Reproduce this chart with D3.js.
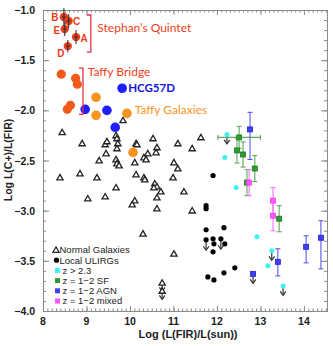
<!DOCTYPE html>
<html><head><meta charset="utf-8">
<script src="https://cdn.jsdelivr.net/npm/d3@7"></script>
<style>body{margin:0;background:#fff}</style>
</head><body><svg id="c" width="333" height="346"></svg>
<script>
// ---------- data ----------
const xTicks = [8, 9, 10, 11, 12, 13, 14];
const yTicks = [-1.0, -1.5, -2.0, -2.5, -3.0, -3.5, -4.0];

const sqNames = ["B", "C", "E", "A", "D"];
const sqX = [8.48, 8.59, 8.50, 8.76, 8.57];
const sqY = [-1.07, -1.11, -1.19, -1.27, -1.36];
const sqYerr = [0.09, 0.07, 0.07, 0.07, 0.06];
const sqXerr = [0.05, 0.05, 0.05, 0.05, 0.05];

const bridgeX = [8.42, 8.75, 8.79, 8.63, 8.56];
const bridgeY = [-1.64, -1.68, -1.74, -1.95, -1.99];

const hcgX = [9.82, 8.97, 9.47, 9.66];
const hcgY = [-1.78, -1.99, -2.00, -2.17];

const taffyX = [9.22, 9.22, 9.93, 10.07];
const taffyY = [-1.87, -2.05, -2.03, -2.42];

const normalX = [8.44, 8.90, 9.43, 9.47, 9.68, 9.70, 9.72, 9.70, 9.84, 9.45, 9.29, 9.68, 9.70, 9.75,
  10.11, 10.14, 10.16, 10.41, 10.32, 10.37, 10.53, 10.62, 10.60, 11.10, 11.43, 11.63, 11.01, 11.10,
  8.39, 8.85, 9.24, 10.14, 10.32, 10.34, 10.57, 10.62, 10.71, 10.55, 9.68, 9.43, 9.03, 10.11, 10.05,
  10.62, 10.62, 10.30, 10.99, 11.24, 11.43, 11.01];
const normalY = [-2.22, -2.33, -2.34, -2.31, -2.25, -2.28, -2.33, -2.38, -2.10, -2.43, -2.50, -2.49, -2.53, -2.55,
  -2.52, -2.33, -2.34, -2.43, -2.47, -2.49, -2.28, -2.37, -2.42, -2.33, -2.38, -2.27, -2.52, -2.58,
  -2.67, -2.63, -2.67, -2.64, -2.67, -2.69, -2.73, -2.76, -2.81, -2.77, -2.77, -2.86, -2.88, -2.90, -2.94,
  -2.87, -2.98, -3.23, -2.67, -2.81, -3.00, -3.43];
const normalLimX = [10.74, 10.74];
const normalLimY = [-3.72, -3.80];

const ulirgX = [11.91, 11.75, 11.75, 11.75, 12.16, 11.91, 11.93, 11.91, 12.18, 11.79, 11.93, 12.16, 12.41];
const ulirgY = [-2.65, -2.95, -2.98, -3.19, -3.17, -3.28, -3.33, -3.41, -3.33, -3.66, -3.69, -3.62, -3.57];
const ulirgLimX = [11.75, 12.09];
const ulirgLimY = [-3.29, -3.28];

const hizX = [12.18, 12.44, 12.92, 13.17];
const hizY = [-2.47, -2.77, -3.26, -3.55];
const hizLimX = [12.23, 13.26, 13.52];
const hizLimY = [-2.24, -3.40, -3.75];

const sfX = [12.51, 12.46, 12.60, 12.87, 12.69, 13.43];
const sfY = [-2.27, -2.40, -2.44, -2.58, -2.72, -3.08];
const sfYerr = [0.11, 0.125, 0.125, 0.13, 0.13, 0.13];
const sfXerr = [0.49, 0, 0, 0, 0, 0];

const agnX = [12.76, 13.40, 14.05, 14.39];
const agnY = [-2.19, -3.51, -3.36, -3.27];
const agnYhi = [-2.02, -3.38, -3.25, -3.10];
const agnYlo = [-2.49, -3.65, -3.52, -3.58];
const agnLimX = [12.83];
const agnLimY = [-3.63];

const mixX = [12.74, 13.29, 13.29];
const mixY = [-2.72, -2.90, -3.05];
const mixYerr = [0.13, 0.13, 0.15];

const legendLabels = ["Normal Galaxies", "Local ULIRGs", "z > 2.3", "z = 1\u22122 SF", "z = 1\u22122 AGN", "z = 1\u22122 mixed"];

// ---------- styles / layout ----------
const W = 333, H = 346;
const L = 43, R = 327, T = 10, B = 311;
const col = {
  sq: "#f0401a", bridge: "#f25a1c", taffy: "#f7941d", hcg: "#1e1eff",
  bracket: "#e8304a", cyan: "#3cf2f2", sf: "#2f9a2f", sfBar: "#5cab5c",
  agn: "#4040f0", agnBar: "#5a5aee", mix: "#ff55ff", mixBar: "#ff70ff", axis: "#8a8a8a"
};
const svg = d3.select("#c");
const x = d3.scaleLinear().domain([8, 14.53]).range([L, R]);
const y = d3.scaleLinear().domain([-4, -1]).range([B, T]);

// ---------- axes ----------
function axisG(axis, tx, ty) {
  const g = svg.append("g").attr("transform", `translate(${tx},${ty})`).call(axis);
  g.select(".domain").attr("stroke", col.axis);
  g.selectAll(".tick line").attr("stroke", col.axis);
  return g;
}
const xMinor = d3.range(80, 146).map(v => v / 10);
const yMinor = d3.range(-40, -9).map(v => v / 10);
[[d3.axisBottom, 0, B], [d3.axisTop, 0, T]].forEach(([f, tx, ty]) => {
  axisG(f(x).tickValues(xMinor).tickSize(-2.5).tickFormat(""), tx, ty);
  axisG(f(x).tickValues(xTicks).tickSize(-5).tickFormat(""), tx, ty);
});
[[d3.axisLeft, L, 0], [d3.axisRight, R, 0]].forEach(([f, tx, ty]) => {
  axisG(f(y).tickValues(yMinor).tickSize(-3).tickFormat(""), tx, ty);
  axisG(f(y).tickValues(yTicks).tickSize(-6).tickFormat(""), tx, ty);
});
const tickFont = "Liberation Sans, Arial, sans-serif";
svg.append("g").selectAll("text").data(xTicks).join("text")
  .attr("x", d => x(d)).attr("y", 325).attr("text-anchor", "middle")
  .attr("font-family", tickFont).attr("font-weight", "bold").attr("font-size", 10.5).attr("fill", "#222")
  .text(d => d);
svg.append("g").selectAll("text").data(yTicks).join("text")
  .attr("x", 35).attr("y", d => y(d) + 4).attr("text-anchor", "end")
  .attr("font-family", tickFont).attr("font-weight", "bold").attr("font-size", 10.5).attr("fill", "#222")
  .text(d => d3.format(".1f")(d).replace("-", "-"));
svg.append("text").attr("x", 188).attr("y", 338).attr("text-anchor", "middle")
  .attr("font-family", tickFont).attr("font-weight", "bold").attr("font-size", 11).attr("fill", "#222")
  .text("Log (L(FIR)/L(sun))");
svg.append("text").attr("transform", "translate(12,160) rotate(-90)").attr("text-anchor", "middle")
  .attr("font-family", tickFont).attr("font-weight", "bold").attr("font-size", 10.5).attr("fill", "#222")
  .text("Log L(C+)/L(FIR)");

// ---------- helpers ----------
const zip = (a, b) => a.map((v, i) => [v, b[i]]);
function vbar(g, xv, y1, y2, color, cap = 2.5) {
  g.append("line").attr("x1", x(xv)).attr("x2", x(xv)).attr("y1", y(y1)).attr("y2", y(y2)).attr("stroke", color).attr("stroke-width", 1.1);
  [y1, y2].forEach(v => g.append("line").attr("x1", x(xv) - cap).attr("x2", x(xv) + cap).attr("y1", y(v)).attr("y2", y(v)).attr("stroke", color).attr("stroke-width", 1.1));
}
function hbar(g, yv, x1, x2, color, cap = 2.5) {
  g.append("line").attr("x1", x(x1)).attr("x2", x(x2)).attr("y1", y(yv)).attr("y2", y(yv)).attr("stroke", color).attr("stroke-width", 1.1);
  [x1, x2].forEach(v => g.append("line").attr("x1", x(v)).attr("x2", x(v)).attr("y1", y(yv) - cap).attr("y2", y(yv) + cap).attr("stroke", color).attr("stroke-width", 1.1));
}
function arrow(g, xv, yv, len = 10) {
  const px = x(xv), py = y(yv);
  g.append("line").attr("x1", px).attr("x2", px).attr("y1", py).attr("y2", py + len).attr("stroke", "#333").attr("stroke-width", 1.2);
  g.append("path").attr("d", `M${px - 2.8},${py + len - 3.5}L${px},${py + len + 0.5}L${px + 2.8},${py + len - 3.5}`)
    .attr("fill", "none").attr("stroke", "#333").attr("stroke-width", 1.2);
}
const tri = d3.symbol().type(d3.symbolTriangle).size(17);
function triangles(g, pts) {
  g.selectAll(null).data(pts).join("path").attr("d", tri)
    .attr("transform", d => `translate(${x(d[0])},${y(d[1]) + 0.5})`)
    .attr("fill", "#fff").attr("stroke", "#222").attr("stroke-width", 1.3);
}
function dots(g, pts, r, fill) {
  g.selectAll(null).data(pts).join("circle").attr("cx", d => x(d[0])).attr("cy", d => y(d[1])).attr("r", r).attr("fill", fill);
}
function squares(g, pts, s, fill, stroke) {
  g.selectAll(null).data(pts).join("rect").attr("x", d => x(d[0]) - s / 2).attr("y", d => y(d[1]) - s / 2)
    .attr("width", s).attr("height", s).attr("fill", fill).attr("stroke", stroke).attr("stroke-width", 0.8);
}

// ---------- marks ----------
const gN = svg.append("g");
triangles(gN, zip(normalX, normalY));
normalLimX.forEach((v, i) => arrow(gN, v, normalLimY[i], 8));
triangles(gN, zip(normalLimX, normalLimY));

const gU = svg.append("g");
ulirgLimX.forEach((v, i) => arrow(gU, v, ulirgLimY[i], 10));
dots(gU, zip(ulirgX, ulirgY), 2.6, "#000");
dots(gU, zip(ulirgLimX, ulirgLimY), 2.6, "#000");

const gH = svg.append("g");
hizLimX.forEach((v, i) => arrow(gH, v, hizLimY[i], 9));
dots(gH, zip(hizX, hizY), 2.5, col.cyan);
dots(gH, zip(hizLimX, hizLimY), 2.5, col.cyan);

const gS = svg.append("g");
sfX.forEach((v, i) => {
  vbar(gS, v, sfY[i] - sfYerr[i], sfY[i] + sfYerr[i], col.sfBar);
  if (sfXerr[i]) hbar(gS, sfY[i], v - sfXerr[i], v + sfXerr[i], col.sfBar);
});
const gM = svg.append("g");
mixX.forEach((v, i) => vbar(gM, v, mixY[i] - mixYerr[i], mixY[i] + mixYerr[i], col.mixBar));
squares(gS, zip(sfX, sfY), 5, col.sf, "#1f7a1f");
squares(gM, zip(mixX, mixY), 5, col.mix, "#ee44ee");

const gA = svg.append("g");
agnX.forEach((v, i) => vbar(gA, v, agnYlo[i], agnYhi[i], col.agnBar));
agnLimX.forEach((v, i) => arrow(gA, v, agnLimY[i], 9));
squares(gA, zip(agnX, agnY), 5, col.agn, "#2222cc");
squares(gA, zip(agnLimX, agnLimY), 5, col.agn, "#2222cc");

const gC = svg.append("g");
dots(gC, zip(taffyX, taffyY), 4.8, col.taffy);
dots(gC, zip(hcgX, hcgY), 4.8, col.hcg);
dots(gC, zip(bridgeX, bridgeY), 4.6, col.bridge);
dots(gC, zip(sqX, sqY), 4.2, col.sq);
sqX.forEach((v, i) => {
  vbar(gC, v, sqY[i] - sqYerr[i], sqY[i] + sqYerr[i], "#333", 0);
  hbar(gC, sqY[i], v - sqXerr[i], v + sqXerr[i], "#333", 0);
});

// ---------- annotations ----------
const annFont = "Lato, 'Open Sans', sans-serif";
const sqLabelOffset = { B: [-9, 0], C: [8, 0], E: [-8, 1], A: [8, 1], D: [-7, 7] };
svg.append("g").selectAll("text").data(sqNames).join("text")
  .attr("x", (d, i) => x(sqX[i]) + sqLabelOffset[d][0])
  .attr("y", (d, i) => y(sqY[i]) + sqLabelOffset[d][1] + 3.5)
  .attr("text-anchor", "middle").attr("font-family", tickFont).attr("font-weight", "bold")
  .attr("font-size", 10).attr("fill", col.sq).text(d => d);

function bracket(xv, y1, y2) {
  svg.append("path").attr("d", `M${x(xv) - 4},${y(y1)}H${x(xv)}V${y(y2)}H${x(xv) - 4}`)
    .attr("fill", "none").attr("stroke", col.bracket).attr("stroke-width", 1.3);
}
bracket(9.10, -1.05, -1.42);
bracket(8.92, -1.58, -2.04);
function note(txt, xv, yv, color, weight, size) {
  svg.append("text").attr("x", x(xv)).attr("y", y(yv)).attr("dy", "0.35em")
    .attr("font-family", annFont).attr("font-weight", weight).attr("font-size", size).attr("fill", color).text(txt);
}
note("Stephan\u2019s Quintet", 9.25, -1.18, col.sq, "normal", 12);
note("Taffy Bridge", 9.03, -1.62, col.sq, "normal", 12);
note("HCG57D", 9.96, -1.78, "#1515e0", "bold", 11.5);
note("Taffy Galaxies", 10.11, -1.99, col.taffy, "normal", 12);

// ---------- legend ----------
const lg = svg.append("g");
const legendFont = "Liberation Sans, Arial, sans-serif";
legendLabels.forEach((t, i) => {
  const cy = 250 + i * 10.2;
  if (i === 0) lg.append("path").attr("d", tri).attr("transform", `translate(56,${cy + 0.5})`).attr("fill", "#fff").attr("stroke", "#222").attr("stroke-width", 1.2);
  else if (i === 1) lg.append("circle").attr("cx", 56.5).attr("cy", cy).attr("r", 2.6).attr("fill", "#000");
  else {
    const c = [col.cyan, col.sf, col.agn, col.mix][i - 2];
    lg.append("rect").attr("x", 55).attr("y", cy - 2.5).attr("width", 5).attr("height", 5).attr("fill", c);
  }
  lg.append("text").attr("x", i < 2 ? 59.5 : 62.5).attr("y", cy).attr("dy", "0.35em")
    .attr("font-family", legendFont).attr("font-size", 9.5).attr("fill", "#222").text(t);
});
</script>
</body></html>
